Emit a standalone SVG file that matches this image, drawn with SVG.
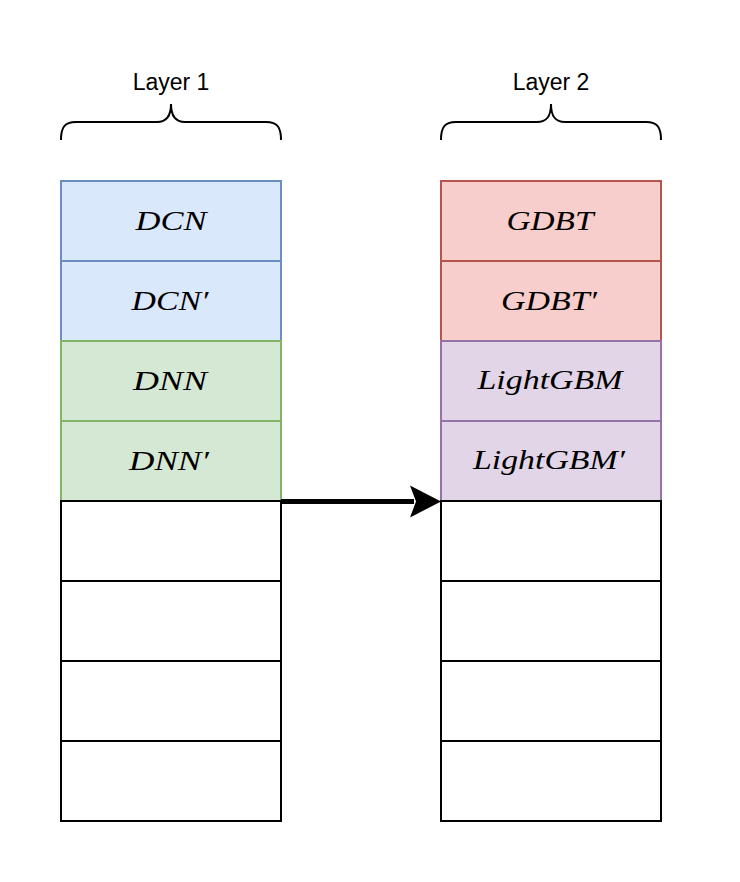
<svg xmlns="http://www.w3.org/2000/svg" width="740" height="882" viewBox="0 0 740 882">
<defs>
<style>
.lbl{font-family:"Liberation Sans",Arial,sans-serif;font-size:23px;fill:#000;text-anchor:middle}
.m{font-family:"Liberation Serif","Times New Roman",serif;font-style:italic;font-size:28px;fill:#000;text-anchor:middle}
.brace{fill:none;stroke:#000;stroke-width:2}
.blue{fill:#dae8fc;stroke:#6c8ebf;stroke-width:2}
.green{fill:#d5e8d4;stroke:#82b366;stroke-width:2}
.red{fill:#f8cecc;stroke:#b85450;stroke-width:2}
.purple{fill:#e1d5e7;stroke:#9673a6;stroke-width:2}
.empty{fill:#fff;stroke:#000;stroke-width:2}
</style>
</defs>
<rect width="740" height="882" fill="#fff"/>
<g id="layer1-title">
<text class="lbl" x="171" y="90">Layer 1</text>
<path class="brace" d="M61,140 C61,128 64,122 76,122 L157,122 C167,122 171,116 171,104 C171,116 175,122 185,122 L266,122 C278,122 281,128 281,140"/>
</g>
<g id="layer2-title">
<text class="lbl" x="551" y="90">Layer 2</text>
<path class="brace" d="M441,140 C441,128 444,122 456,122 L537,122 C547,122 551,116 551,104 C551,116 555,122 565,122 L646,122 C658,122 661,128 661,140"/>
</g>
<g id="dcn"><rect class="blue" x="61" y="181" width="220" height="80"/><text class="m" x="171" y="230" textLength="71" lengthAdjust="spacingAndGlyphs">DCN</text></g>
<g id="dcn2"><rect class="blue" x="61" y="261" width="220" height="80"/><text class="m" x="170" y="310" textLength="77" lengthAdjust="spacingAndGlyphs">DCN′</text></g>
<g id="dnn"><rect class="green" x="61" y="341" width="220" height="80"/><text class="m" x="170" y="390" textLength="74" lengthAdjust="spacingAndGlyphs">DNN</text></g>
<g id="dnn2"><rect class="green" x="61" y="421" width="220" height="80"/><text class="m" x="169" y="470" textLength="80" lengthAdjust="spacingAndGlyphs">DNN′</text></g>
<g id="l1-e1"><rect class="empty" x="61" y="501" width="220" height="80"/></g>
<g id="l1-e2"><rect class="empty" x="61" y="581" width="220" height="80"/></g>
<g id="l1-e3"><rect class="empty" x="61" y="661" width="220" height="80"/></g>
<g id="l1-e4"><rect class="empty" x="61" y="741" width="220" height="80"/></g>
<g id="gdbt"><rect class="red" x="441" y="181" width="220" height="80"/><text class="m" x="550" y="230" textLength="87" lengthAdjust="spacingAndGlyphs">GDBT</text></g>
<g id="gdbt2"><rect class="red" x="441" y="261" width="220" height="80"/><text class="m" x="549" y="310" textLength="96" lengthAdjust="spacingAndGlyphs">GDBT′</text></g>
<g id="lgbm"><rect class="purple" x="441" y="341" width="220" height="80"/><text class="m" x="550" y="389" textLength="145" lengthAdjust="spacingAndGlyphs">LightGBM</text></g>
<g id="lgbm2"><rect class="purple" x="441" y="421" width="220" height="80"/><text class="m" x="549" y="469" textLength="152" lengthAdjust="spacingAndGlyphs">LightGBM′</text></g>
<g id="l2-e1"><rect class="empty" x="441" y="501" width="220" height="80"/></g>
<g id="l2-e2"><rect class="empty" x="441" y="581" width="220" height="80"/></g>
<g id="l2-e3"><rect class="empty" x="441" y="661" width="220" height="80"/></g>
<g id="l2-e4"><rect class="empty" x="441" y="741" width="220" height="80"/></g>
<g id="connectors">
<line x1="281" y1="501.5" x2="414" y2="501.5" stroke="#000" stroke-width="5"/>
<path d="M441,501.5 L410,485.5 L416,501.5 L410,517.5 Z" fill="#000"/>
</g>
</svg>
